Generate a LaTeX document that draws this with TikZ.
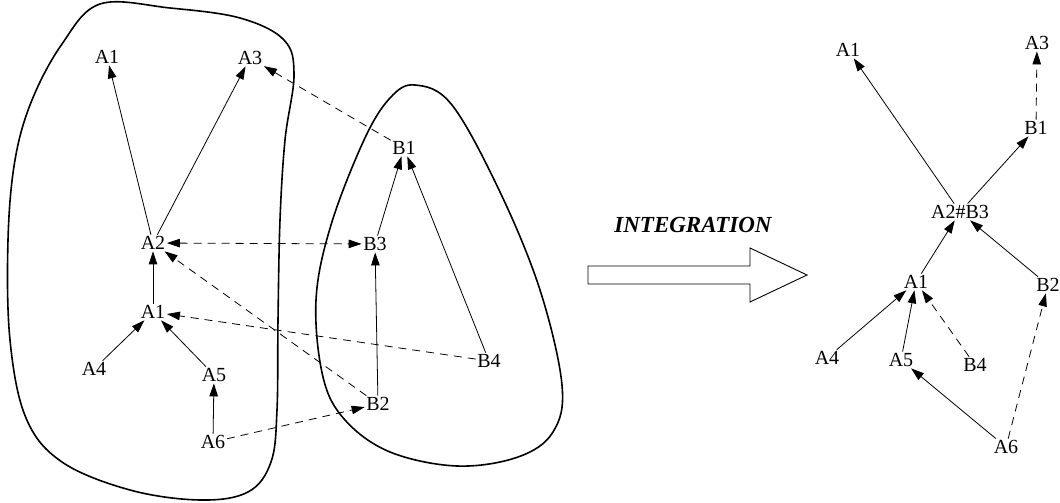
\documentclass[tikz,border=0pt]{standalone}
\usepackage{fontspec}
\setmainfont{Liberation Serif}
\usetikzlibrary{arrows.meta}
\begin{document}
\begin{tikzpicture}[x=1pt,y=-1pt,
  lab/.style={inner sep=1.5pt,font=\fontsize{20}{22}\selectfont},
  tip/.tip={Triangle[length=13pt,width=8.5pt]},
  arr/.style={-tip,line width=0.8pt},
  darr/.style={arr,dash pattern=on 8pt off 6pt},
  blob/.style={line width=1.6pt}]
\useasboundingbox (0,0) rectangle (1060,503);
% blobs
\draw[blob] plot[smooth cycle,tension=0.6] coordinates {(100,4) (170,8) (240,18) (284,40) (294,75) (285,140) (280,220) (278,320) (277,410) (271,462) (248,492) (200,500) (130,490) (62,462) (26,418) (10,340) (8,240) (15,160) (32,100) (62,44)};
\draw[blob] plot[smooth cycle,tension=0.6] coordinates {(415,85) (452,105) (500,192) (540,290) (562,385) (553,432) (518,457) (457,466) (390,452) (345,420) (323,377) (316,300) (331,225) (364,140) (390,98)};
% left nodes
\node[lab] (a1) at (107,57) {A1};
\node[lab] (a3) at (250,58) {A3};
\node[lab] (a2) at (153,243) {A2};
\node[lab] (a1b) at (153,312) {A1};
\node[lab] (a4) at (94,369) {A4};
\node[lab] (a5) at (214,375) {A5};
\node[lab] (a6) at (213,442) {A6};
\node[lab] (b1) at (404,148) {B1};
\node[lab] (b3) at (375,244) {B3};
\node[lab] (b4) at (489,361) {B4};
\node[lab] (b2) at (378,404) {B2};
\draw[arr] (a2) -- (a1);
\draw[arr] (a2) -- (a3);
\draw[darr] (b1) -- (a3);
\draw[darr,tip-tip] (a2) -- (b3);
\draw[arr] (a1b) -- (a2);
\draw[darr] (b2) -- (a2);
\draw[darr] (b4) -- (a1b);
\draw[arr] (a4) -- (a1b);
\draw[arr] (a5) -- (a1b);
\draw[arr] (a6) -- (a5);
\draw[darr] (a6) -- (b2);
\draw[arr] (b3) -- (b1);
\draw[arr] (b4) -- (b1);
\draw[arr] (b2) -- (b3);
% integration arrow
\node[inner sep=0pt,font=\fontsize{23}{26}\selectfont\bfseries\itshape] (int) at (693,225) {INTEGRATION};
\draw[line width=0.9pt] (588,266) -- (750,266) -- (750,248) -- (807,275) -- (750,302) -- (750,284) -- (588,284) -- cycle;
% right nodes
\node[lab] (r1) at (848,50) {A1};
\node[lab] (r3) at (1037,43) {A3};
\node[lab] (rb1) at (1036,128) {B1};
\node[lab] (rab) at (960,212) {A2\#B3};
\node[lab] (r1b) at (916,282) {A1};
\node[lab] (rb2) at (1048,285) {B2};
\node[lab] (r4) at (827,358) {A4};
\node[lab] (r5) at (901,360) {A5};
\node[lab] (rb4) at (975,365) {B4};
\node[lab] (r6) at (1006,447) {A6};
\draw[arr] (rab) -- (r1);
\draw[arr] (rab) -- (rb1);
\draw[darr] (rb1) -- (r3);
\draw[arr] (r1b) -- (rab);
\draw[arr] (rb2) -- (rab);
\draw[arr] (r4) -- (r1b);
\draw[arr] (r5) -- (r1b);
\draw[darr] (rb4) -- (r1b);
\draw[arr] (r6) -- (r5);
\draw[darr] (r6) -- (rb2);
\end{tikzpicture}
\end{document}
